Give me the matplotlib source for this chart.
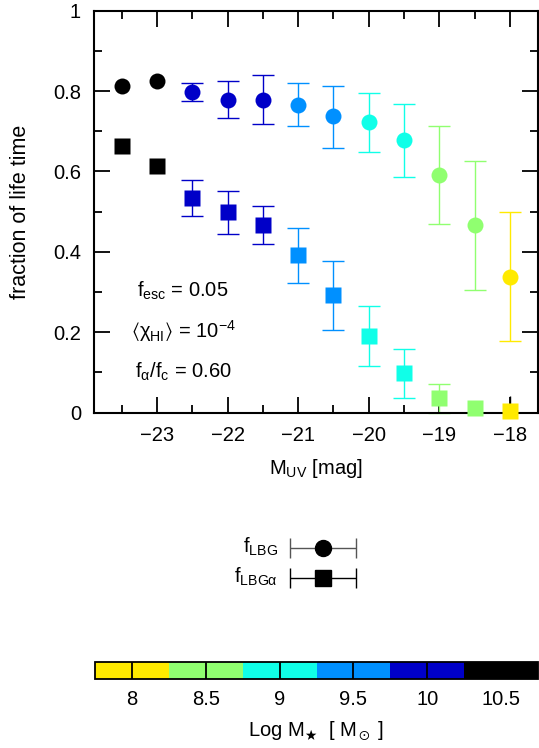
import numpy as np
import matplotlib
matplotlib.use("Agg")
import matplotlib.pyplot as plt
from matplotlib.colors import ListedColormap, BoundaryNorm
from matplotlib.cm import ScalarMappable
from matplotlib.ticker import MultipleLocator, FuncFormatter

plt.rcParams['font.family'] = ['Liberation Sans', 'DejaVu Sans']
plt.rcParams['mathtext.fontset'] = 'custom'
plt.rcParams['mathtext.rm'] = 'Liberation Sans'
plt.rcParams['mathtext.it'] = 'Liberation Sans:italic'
plt.rcParams['mathtext.bf'] = 'Liberation Sans:bold'
plt.rcParams['mathtext.fallback'] = 'stixsans'

# ---------------- data ----------------
muv = [-23.5, -23.0, -22.5, -22.0, -21.5, -21.0, -20.5, -20.0, -19.5, -19.0, -18.5, -18.0]
logmstar = [10.5, 10.5, 10.0, 10.0, 10.0, 9.5, 9.5, 9.0, 9.0, 8.5, 8.5, 8.0]

f_lbg = [0.813, 0.825, 0.797, 0.779, 0.779, 0.766, 0.737, 0.722, 0.678, 0.591, 0.466, 0.338]
f_lbg_hi = [np.nan, np.nan, 0.821, 0.824, 0.839, 0.821, 0.814, 0.796, 0.769, 0.713, 0.625, 0.498]
f_lbg_lo = [np.nan, np.nan, 0.776, 0.734, 0.718, 0.712, 0.659, 0.648, 0.587, 0.469, 0.306, 0.177]

f_lbga = [0.663, 0.613, 0.533, 0.498, 0.466, 0.391, 0.292, 0.190, 0.098, 0.036, 0.012, 0.004]
f_lbga_hi = [np.nan, np.nan, 0.579, 0.552, 0.515, 0.460, 0.377, 0.265, 0.159, 0.071, np.nan, 0.042]
f_lbga_lo = [np.nan, np.nan, 0.489, 0.444, 0.419, 0.323, 0.206, 0.116, 0.035, 0.0, np.nan, 0.0]

cbar_bounds = [7.75, 8.25, 8.75, 9.25, 9.75, 10.25, 10.75]
cbar_colors = ['#ffea00', '#90ff70', '#10ffe8', '#0090ff', '#0000c8', '#000000']
cbar_ticks = [8, 8.5, 9, 9.5, 10, 10.5]

cmap = ListedColormap(cbar_colors)
norm = BoundaryNorm(cbar_bounds, cmap.N)

W, H = 539, 748
fig = plt.figure(figsize=(W / 100, H / 100), dpi=100)

def rect(x0, y0, x1, y1):
    return [x0 / W, 1 - y1 / H, (x1 - x0) / W, (y1 - y0) / H]

ax = fig.add_axes(rect(93.5, 10.8, 538, 412.5))
ax.set_xlim(-23.9, -17.6)
ax.set_ylim(0, 1)

FS = 14.5
for i in range(len(muv)):
    c = cmap(norm(logmstar[i]))
    # circles
    if not np.isnan(f_lbg_hi[i]):
        ax.errorbar(muv[i], f_lbg[i],
                    yerr=[[f_lbg[i] - f_lbg_lo[i]], [f_lbg_hi[i] - f_lbg[i]]],
                    fmt='none', ecolor=c, elinewidth=1.0, capsize=8, capthick=1.0,
                    zorder=2)
    ax.plot(muv[i], f_lbg[i], 'o', color=c, ms=11.5, mec='none', zorder=3, clip_on=False)
    # squares
    if not np.isnan(f_lbga_hi[i]):
        ec = 'black' if logmstar[i] == 8.0 else c
        cs = 0 if logmstar[i] == 8.0 else 8
        ax.errorbar(muv[i], f_lbga[i],
                    yerr=[[f_lbga[i] - f_lbga_lo[i]], [f_lbga_hi[i] - f_lbga[i]]],
                    fmt='none', ecolor=ec, elinewidth=1.0, capsize=cs, capthick=1.0,
                    zorder=2, clip_on=False)
    ax.plot(muv[i], f_lbga[i], 's', color=c, ms=12, mec='none', zorder=3, clip_on=False)

ax.xaxis.set_major_locator(MultipleLocator(1))
ax.xaxis.set_minor_locator(MultipleLocator(0.5))
ax.yaxis.set_major_locator(MultipleLocator(0.2))
ax.yaxis.set_minor_locator(MultipleLocator(0.1))
ax.xaxis.set_major_formatter(FuncFormatter(lambda v, p: ('%g' % v).replace('-', '\u2212')))
ax.yaxis.set_major_formatter(FuncFormatter(lambda v, p: '%g' % round(v, 2)))
ax.tick_params(which='both', direction='in', top=True, right=True, width=1.3,
               labelsize=FS)
ax.tick_params(which='major', length=11.5)
ax.tick_params(which='minor', length=5.8)
ax.tick_params(axis='y', which='major', pad=9)
ax.tick_params(axis='x', which='major', pad=10)
for s in ax.spines.values():
    s.set_linewidth(1.5)

ax.set_xlabel(r'M$_{\rm UV}$ [mag]', fontsize=FS)
ax.xaxis.set_label_coords(0.5, -0.112)
ax.set_ylabel('fraction of life time', fontsize=15.5)
ax.yaxis.set_label_coords(-0.141, 0.5)

# annotations
tx = (183 - 93.5) / 444.5
def ay(py):
    return (412.5 - py) / 401.7
ax.text(tx, ay(297), r'f$_{\rm esc}$ = 0.05', transform=ax.transAxes,
        ha='center', va='baseline', fontsize=FS)
ax.text(tx, ay(338), r'$\langle\mathrm{\chi}_{\rm HI}\rangle$ = 10$^{-4}$', transform=ax.transAxes,
        ha='center', va='baseline', fontsize=FS)
ax.text(tx, ay(378), r'f$_\mathrm{\alpha}$/f$_{\rm c}$ = 0.60', transform=ax.transAxes,
        ha='center', va='baseline', fontsize=FS)

# legend
lax = fig.add_axes(rect(280, 533, 366, 593))
lax.set_xlim(-1.3, 1.3)
lax.set_ylim(0, 2)
lax.axis('off')
lax.errorbar(0, 1.5, xerr=1, fmt='o', color='black', ecolor='#555555', ms=11.5,
             elinewidth=1.0, capsize=7, capthick=1.0)
lax.errorbar(0, 0.5, xerr=1, fmt='s', color='black', ecolor='black', ms=12,
             elinewidth=1.0, capsize=7, capthick=1.0)
fig.text(278 / W, 1 - 553 / H, r'f$_{\rm LBG}$', ha='right', va='baseline', fontsize=FS)
fig.text(278 / W, 1 - 583 / H, r'f$_{\rm LBG\mathrm{\alpha}}$', ha='right', va='baseline', fontsize=FS)

# colorbar
cax = fig.add_axes(rect(95, 662, 538, 679))
sm = ScalarMappable(norm=norm, cmap=cmap)
cb = fig.colorbar(sm, cax=cax, orientation='horizontal', ticks=cbar_ticks,
                  spacing='proportional')
cb.ax.set_xticklabels(['%g' % t for t in cbar_ticks])
cb.ax.minorticks_off()
cb.ax.tick_params(which='both', length=0, labelsize=FS, pad=8)
cb.outline.set_linewidth(1.3)
for t in cbar_ticks:
    cax.axvline(t, color='black', lw=1.3)
cb.set_label(r'Log M$_\bigstar$  [ M$_\odot$ ]', fontsize=FS, labelpad=7)

fig.savefig('out.png', dpi=100)
